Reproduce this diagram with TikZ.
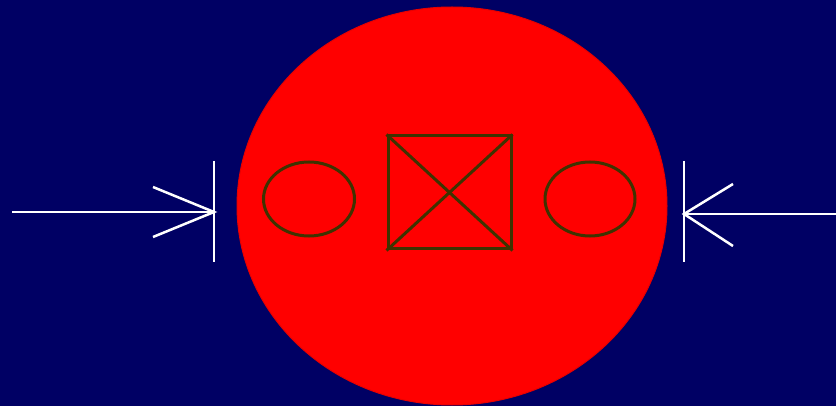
\documentclass[tikz,border=0pt]{standalone}
\usetikzlibrary{shapes.geometric}
\definecolor{bgnavy}{HTML}{000064}
\definecolor{olive}{HTML}{3F3300}
\definecolor{redrim}{HTML}{E80000}
\tikzset{
  whiteline/.style={draw=white, line width=2.5pt},
  darkline/.style={draw=olive, line width=3pt},
}
\begin{document}
\begin{tikzpicture}[x=1pt,y=-1pt]
\fill[bgnavy] (0,0) rectangle (836,406);
\useasboundingbox (0,0) rectangle (836,406);
\node[ellipse, fill=red, draw=redrim, line width=1pt, inner sep=0, minimum width=430pt, minimum height=398pt] (big) at (452,206) {};
\node[ellipse, darkline, inner sep=0, minimum width=91pt, minimum height=74pt] (lov) at (309,199) {};
\node[ellipse, darkline, inner sep=0, minimum width=90pt, minimum height=74pt] (rov) at (590,199) {};
\node[rectangle, darkline, inner sep=0, minimum width=123pt, minimum height=113pt] (sq) at (449.5,192.5) {};
\draw[darkline] (sq.north west) -- (sq.south east);
\draw[darkline] (sq.north east) -- (sq.south west);
% left arrow
\coordinate (ltip) at (214,212);
\coordinate (lstart) at (12,212);
\coordinate (lu) at (153,187);
\coordinate (ld) at (153,237);
\coordinate (lbt) at (214,161);
\coordinate (lbb) at (214,262);
\draw[whiteline] (lstart) -- (ltip);
\draw[whiteline] (lu) -- (ltip) -- (ld);
\draw[whiteline] (lbt) -- (lbb);
% right arrow
\coordinate (rtip) at (684,214);
\coordinate (rstart) at (836,214);
\coordinate (ru) at (733,184);
\coordinate (rd) at (733,246);
\coordinate (rbt) at (684,161);
\coordinate (rbb) at (684,262);
\draw[whiteline] (rstart) -- (rtip);
\draw[whiteline] (ru) -- (rtip) -- (rd);
\draw[whiteline] (rbt) -- (rbb);
\end{tikzpicture}
\end{document}
